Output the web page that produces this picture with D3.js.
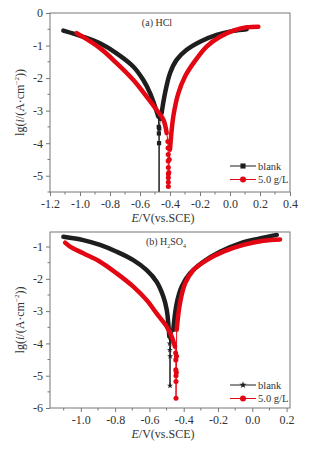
<!DOCTYPE html>
<html>
<head>
<meta charset="utf-8">
<script src="https://cdn.jsdelivr.net/npm/d3@7"></script>
<style>
  body { margin: 0; background: #fff; }
  svg { display: block; }
  text { font-family: "Liberation Serif", "DejaVu Serif", serif; }
</style>
</head>
<body>
<svg id="chart" width="309" height="449"></svg>
<script>
// ---- data: [E (V vs SCE), lg i] ----

// (a) HCl, blank
var hclBlankCathodic = [[-1.111,-0.54],[-0.978,-0.73],[-0.867,-0.93],[-0.756,-1.24],[-0.644,-1.65],[-0.578,-2.06],[-0.533,-2.46],[-0.500,-2.87],[-0.478,-3.18]];
var hclBlankTail = [[-0.475,-3.5],[-0.474,-3.7],[-0.473,-4.0],[-0.473,-6.2],[-0.472,-3.55],[-0.465,-3.25]];
var hclBlankAnodic = [[-0.456,-3.08],[-0.433,-2.46],[-0.400,-1.85],[-0.356,-1.44],[-0.289,-1.13],[-0.200,-0.88],[-0.089,-0.67],[0.022,-0.55],[0.111,-0.50]];

// (a) HCl, 5.0 g/L
var hcl5Cathodic = [[-1.022,-0.62],[-0.867,-1.08],[-0.756,-1.54],[-0.644,-2.06],[-0.556,-2.57],[-0.489,-2.98],[-0.444,-3.28],[-0.422,-3.69]];
var hcl5Tail = [[-0.414,-3.95],[-0.413,-4.15],[-0.412,-4.35],[-0.412,-4.55],[-0.411,-4.75],[-0.411,-4.95],[-0.411,-5.06],[-0.411,-5.2],[-0.411,-5.33],[-0.408,-4.9],[-0.405,-4.5]];
var hcl5Anodic = [[-0.400,-4.2],[-0.378,-3.18],[-0.344,-2.46],[-0.300,-1.95],[-0.244,-1.54],[-0.156,-1.03],[-0.067,-0.73],[0.022,-0.54],[0.111,-0.44],[0.189,-0.42]];

// (b) H2SO4, blank
var h2so4BlankCathodic = [[-1.102,-0.70],[-0.986,-0.80],[-0.888,-0.95],[-0.791,-1.16],[-0.694,-1.42],[-0.616,-1.73],[-0.558,-2.09],[-0.519,-2.55],[-0.499,-2.96],[-0.490,-3.38],[-0.484,-3.79]];
var h2so4BlankTail = [[-0.482,-4.0],[-0.481,-4.2],[-0.480,-5.31],[-0.479,-4.4],[-0.475,-3.9]];
var h2so4BlankAnodic = [[-0.461,-3.58],[-0.441,-2.76],[-0.412,-2.24],[-0.363,-1.83],[-0.286,-1.47],[-0.188,-1.16],[-0.071,-0.90],[0.045,-0.75],[0.143,-0.64]];

// (b) H2SO4, 5.0 g/L
var h2so45Cathodic = [[-1.092,-0.88],[-1.063,-1.00],[-0.986,-1.21],[-0.888,-1.47],[-0.791,-1.83],[-0.694,-2.24],[-0.616,-2.66],[-0.558,-3.07],[-0.499,-3.48],[-0.470,-3.79],[-0.451,-4.10]];
var h2so45Tail = [[-0.447,-4.3],[-0.446,-4.51],[-0.446,-4.82],[-0.445,-5.0],[-0.445,-5.18],[-0.445,-5.7],[-0.443,-4.9],[-0.442,-4.4]];
var h2so45Anodic = [[-0.441,-3.58],[-0.422,-2.76],[-0.392,-2.14],[-0.344,-1.73],[-0.266,-1.42],[-0.169,-1.16],[-0.052,-0.95],[0.064,-0.82],[0.162,-0.78]];

// axis ticks
var hclXTicks = [-1.2,-1.0,-0.8,-0.6,-0.4,-0.2,0.0,0.2,0.4];
var hclYTicks = [0,-1,-2,-3,-4,-5];
var h2so4XTicks = [-1.0,-0.8,-0.6,-0.4,-0.2,0.0,0.2];
var h2so4YTicks = [-1,-2,-3,-4,-5,-6];

var legendLabels = ["blank", "5.0 g/L"];

var black = "#1e1e1e";
var red = "#e30613";
var svg = d3.select("#chart");

// the two panels
var panels = [
	{
		id: "a",
		left: 50, right: 290, top: 13, bottom: 192,
		xDomain: [-1.2, 0.4], yDomain: [-5.5, 0],
		xTicks: hclXTicks, yTicks: hclYTicks,
		blankSymbol: d3.symbolSquare, blankSize: 18, blankLegendSize: 26,
		series: [
			{c: hclBlankCathodic, t: hclBlankTail, a: hclBlankAnodic, color: black, blank: true},
			{c: hcl5Cathodic, t: hcl5Tail, a: hcl5Anodic, color: red, blank: false}
		],
		legendY: 166
	},
	{
		id: "b",
		left: 50, right: 290, top: 232, bottom: 408,
		xDomain: [-1.18, 0.22], yDomain: [-6, -0.55],
		xTicks: h2so4XTicks, yTicks: h2so4YTicks,
		blankSymbol: d3.symbolStar, blankSize: 11, blankLegendSize: 16,
		series: [
			{c: h2so4BlankCathodic, t: h2so4BlankTail, a: h2so4BlankAnodic, color: black, blank: true},
			{c: h2so45Cathodic, t: h2so45Tail, a: h2so45Anodic, color: red, blank: false}
		],
		legendY: 385
	}
];

// plain hyphen instead of the unicode minus d3 uses
function hyphen(s) { return s.replace("\u2212", "-"); }

panels.forEach(function(p) {
	var x = d3.scaleLinear().domain(p.xDomain).range([p.left, p.right]);
	var y = d3.scaleLinear().domain(p.yDomain).range([p.bottom, p.top]);
	var g = svg.append("g");

	svg.append("clipPath").attr("id", "clip" + p.id)
		.append("rect")
		.attr("x", p.left).attr("y", p.top)
		.attr("width", p.right - p.left).attr("height", p.bottom - p.top);

	var plot = g.append("g").attr("clip-path", "url(#clip" + p.id + ")");

	var thick = d3.line()
		.x(function(d) { return x(d[0]); })
		.y(function(d) { return y(d[1]); })
		.curve(d3.curveCatmullRom.alpha(0.5));
	var thin = d3.line()
		.x(function(d) { return x(d[0]); })
		.y(function(d) { return y(d[1]); });

	p.series.forEach(function(s) {
		// thin connecting line around the corrosion potential
		var tailLine = [s.c[s.c.length - 1]].concat(s.t, [s.a[0]]);
		plot.append("path")
			.attr("d", thin(tailLine))
			.attr("fill", "none")
			.attr("stroke", s.color)
			.attr("stroke-width", 1);

		// dense markers merge into a thick band on both branches
		[s.c, s.a].forEach(function(branch) {
			plot.append("path")
				.attr("d", thick(branch))
				.attr("fill", "none")
				.attr("stroke", s.color)
				.attr("stroke-width", 4.5)
				.attr("stroke-linecap", "round");
		});

		// sparse markers in the tail
		var sym = s.blank ? d3.symbol().type(p.blankSymbol).size(p.blankSize)
			: d3.symbol().type(d3.symbolCircle).size(20);
		plot.selectAll(null)
			.data(s.t.filter(function(d) { return y(d[1]) < p.bottom; }))
			.enter().append("path")
			.attr("d", sym)
			.attr("transform", function(d) { return "translate(" + x(d[0]) + "," + y(d[1]) + ")"; })
			.attr("fill", s.color);
	});

	// frame
	g.append("rect")
		.attr("x", p.left).attr("y", p.top)
		.attr("width", p.right - p.left).attr("height", p.bottom - p.top)
		.attr("fill", "none").attr("stroke", "#777").attr("stroke-width", 1);

	// minor ticks (halfway between the majors)
	var xStep = p.xTicks[1] - p.xTicks[0];
	var xMinor = [];
	for (var v = p.xTicks[0] - xStep / 2; v <= p.xDomain[1] + 1e-9; v += xStep) {
		if (v >= p.xDomain[0] - 1e-9) xMinor.push(v);
	}
	var yMinor = p.yTicks.map(function(t) { return t - 0.5; })
		.filter(function(t) { return t >= p.yDomain[0] - 1e-9; });
	if (p.yTicks[0] + 0.5 <= p.yDomain[1]) yMinor.push(p.yTicks[0] + 0.5);

	var xAxis = g.append("g")
		.attr("transform", "translate(0," + p.bottom + ")")
		.call(d3.axisBottom(x).tickValues(p.xTicks).tickSize(4).tickPadding(3)
			.tickFormat(function(d) { return hyphen(d3.format(".1f")(d)); }));
	xAxis.append("g").selectAll("line").data(xMinor).enter().append("line")
		.attr("x1", x).attr("x2", x).attr("y1", 0).attr("y2", 2.5);

	var yAxis = g.append("g")
		.attr("transform", "translate(" + p.left + ",0)")
		.call(d3.axisLeft(y).tickValues(p.yTicks).tickSize(4).tickPadding(3)
			.tickFormat(function(d) { return hyphen(d3.format(".0f")(d)); }));
	yAxis.append("g").selectAll("line").data(yMinor).enter().append("line")
		.attr("y1", y).attr("y2", y).attr("x1", 0).attr("x2", -2.5);

	[xAxis, yAxis].forEach(function(ax) {
		ax.select(".domain").remove();
		ax.selectAll("line").attr("stroke", "#777");
		ax.selectAll("text").attr("fill", "#333").style("font-size", "12px")
			.style("font-family", "'Liberation Serif', serif");
	});

	// x axis title: E/V(vs.SCE)
	var xt = g.append("text")
		.attr("x", (p.left + p.right) / 2 - 7)
		.attr("y", p.bottom + 30)
		.attr("text-anchor", "middle")
		.attr("fill", "#333")
		.style("font-size", "12px");
	xt.append("tspan").attr("font-style", "italic").text("E");
	xt.append("tspan").text("/V(vs.SCE)");

	// y axis title: lg(i/(A·cm-2))
	var yt = g.append("text")
		.attr("transform", "translate(24," + ((p.top + p.bottom) / 2) + ") rotate(-90)")
		.attr("text-anchor", "middle")
		.attr("fill", "#333")
		.style("font-size", "12px");
	yt.append("tspan").text("lg(");
	yt.append("tspan").attr("font-style", "italic").text("i");
	yt.append("tspan").text("/(A\u00b7cm");
	yt.append("tspan").attr("dy", -5).style("font-size", "7px").text("\u22122");
	yt.append("tspan").attr("dy", 5).text("))");

	// panel title
	var tt = g.append("text")
		.attr("x", p.id === "a" ? 157 : 166)
		.attr("y", p.top + 13)
		.attr("text-anchor", "middle")
		.attr("fill", "#333")
		.style("font-size", "10px");
	if (p.id === "a") {
		tt.text("(a) HCl");
	} else {
		tt.append("tspan").text("(b) H");
		tt.append("tspan").attr("dy", 3).style("font-size", "6px").text("2");
		tt.append("tspan").attr("dy", -3).text("SO");
		tt.append("tspan").attr("dy", 3).style("font-size", "6px").text("4");
	}

	// legend
	var legend = g.append("g");
	legendLabels.forEach(function(label, i) {
		var s = p.series[i];
		var ly = p.legendY + i * 13.5;
		legend.append("line")
			.attr("x1", 230).attr("x2", 256).attr("y1", ly).attr("y2", ly)
			.attr("stroke", s.color).attr("stroke-width", 1);
		var sym = s.blank ? d3.symbol().type(p.blankSymbol).size(p.blankLegendSize)
			: d3.symbol().type(d3.symbolCircle).size(28);
		legend.append("path")
			.attr("d", sym)
			.attr("transform", "translate(243," + ly + ")")
			.attr("fill", s.color);
		legend.append("text")
			.attr("x", 258).attr("y", ly + 3.5)
			.attr("fill", "#333")
			.style("font-size", "10.5px")
			.text(label);
	});
});
</script>
</body>
</html>
